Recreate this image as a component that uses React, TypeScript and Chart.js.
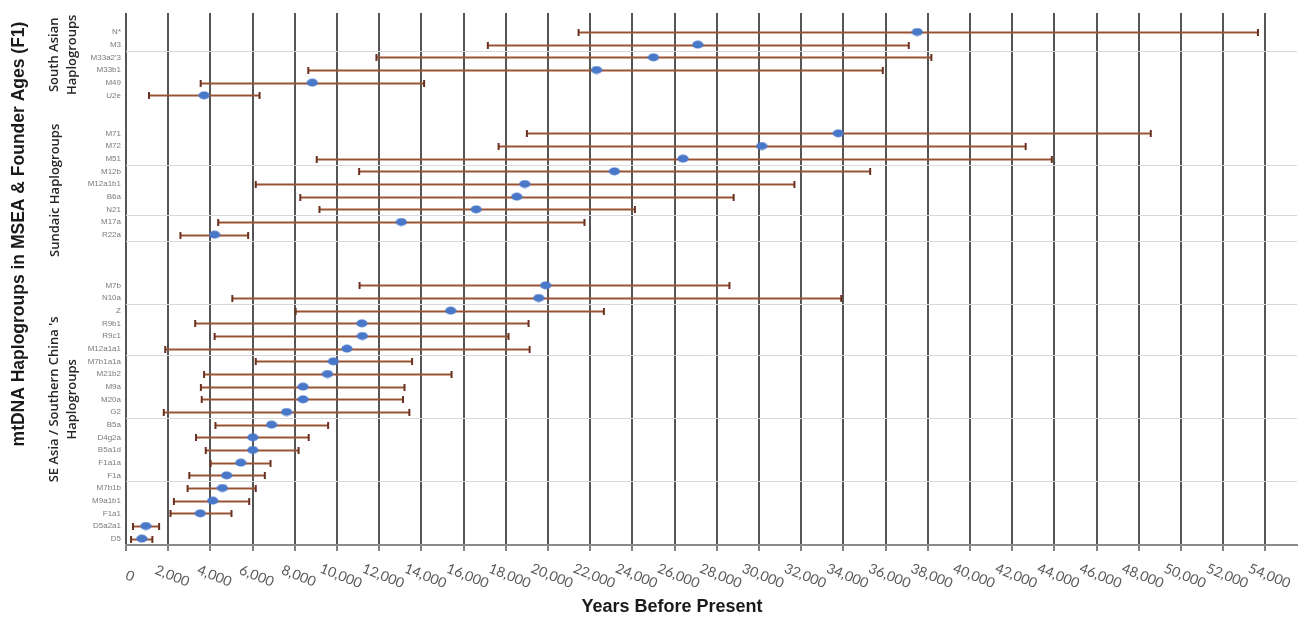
import React, { useEffect, useRef } from 'react';
import { Chart, registerables } from 'chart.js';

Chart.register(...registerables);

// Rows from top to bottom ('' = spacer row)
const haplogroups: string[] = [
  '', 'N*', 'M3', "M33a2'3", 'M33b1', 'M49', 'U2e',
  '', '',
  'M71', 'M72', 'M51', 'M12b', 'M12a1b1', 'B6a', 'N21', 'M17a', 'R22a',
  '', '', '',
  'M7b', 'N10a', 'Z', 'R9b1', 'R9c1', 'M12a1a1', 'M7b1a1a', 'M21b2', 'M9a', 'M20a', 'G2',
  'B5a', 'D4g2a', 'B5a1d', 'F1a1a', 'F1a', 'M7b1b', 'M9a1b1', 'F1a1', 'D5a2a1', 'D5',
];

const founderAge: (number | null)[] = [
  null, 37500, 27100, 25000, 22300, 8830, 3700,
  null, null,
  33760, 30130, 26400, 23150, 18900, 18520, 16600, 13050, 4200,
  null, null, null,
  19890, 19560, 15390, 11180, 11200, 10470, 9830, 9550, 8390, 8390, 7610,
  6900, 6010, 6010, 5440, 4770, 4570, 4110, 3520, 940, 750,
];

const lowerAge: (number | null)[] = [
  null, 21450, 17150, 11870, 8640, 3540, 1090,
  null, null,
  19000, 17660, 9040, 11050, 6150, 8260, 9170, 4370, 2580,
  null, null, null,
  11070, 5040, 8040, 3280, 4200, 1860, 6150, 3700, 3550, 3590, 1790,
  4240, 3320, 3780, 4010, 3000, 2920, 2270, 2110, 330, 240,
];

const upperAge: (number | null)[] = [
  null, 53650, 37100, 38170, 35870, 14130, 6330,
  null, null,
  48570, 42640, 43880, 35270, 31680, 28800, 24120, 21730, 5790,
  null, null, null,
  28600, 33900, 22650, 19080, 18130, 19130, 13560, 15430, 13200, 13130, 13430,
  9580, 8660, 8180, 6850, 6580, 6150, 5840, 5000, 1570, 1250,
];

// x-axis tick values (years before present)
const xTickValues: number[] = [
  0, 2000, 4000, 6000, 8000, 10000, 12000, 14000, 16000, 18000, 20000, 22000, 24000, 26000,
  28000, 30000, 32000, 34000, 36000, 38000, 40000, 42000, 44000, 46000, 48000, 50000, 52000, 54000,
];

// Light horizontal separators (between rows)
const rowSeparators: number[] = [2.5, 11.5, 15.5, 17.5, 22.5, 26.5, 31.5, 36.5];

const groupLines: string[][] = [
  ['South Asian', 'Haplogroups'],
  ['Sundaic Haplogroups'],
  ["SE Asia / Southern China 's", 'Haplogroups'],
];
const groupCenterRow: number[] = [2.8, 13.5, 30.0];

const xAxisTitle = 'Years Before Present';
const chartTitle = 'mtDNA Haplogroups in MSEA & Founder Ages (F1)';

const X_MAX = 55500;

function makeDot(): HTMLCanvasElement {
  const c = document.createElement('canvas');
  c.width = 12;
  c.height = 9;
  const g = c.getContext('2d')!;
  g.fillStyle = '#4a78c9';
  g.beginPath();
  g.ellipse(6, 4.5, 5.6, 3.9, 0, 0, Math.PI * 2);
  g.fill();
  return c;
}

const errorBarPlugin = {
  id: 'errorBars',
  beforeDatasetsDraw(chart: any) {
    const { ctx, scales } = chart;
    const xs = scales.x;
    const ys = scales.y;
    ctx.save();
    for (let i = 0; i < haplogroups.length; i++) {
      const lo = lowerAge[i];
      const hi = upperAge[i];
      if (lo == null || hi == null) continue;
      const py = Math.round(ys.getPixelForValue(i)) + 0.5;
      const x1 = xs.getPixelForValue(lo);
      const x2 = xs.getPixelForValue(hi);
      ctx.strokeStyle = '#9a5434';
      ctx.lineWidth = 2;
      ctx.beginPath();
      ctx.moveTo(x1, py);
      ctx.lineTo(x2, py);
      ctx.stroke();
      ctx.strokeStyle = '#6a3020';
      ctx.lineWidth = 2;
      ctx.beginPath();
      ctx.moveTo(x1, py - 3.5);
      ctx.lineTo(x1, py + 3.5);
      ctx.moveTo(x2, py - 3.5);
      ctx.lineTo(x2, py + 3.5);
      ctx.stroke();
    }
    ctx.restore();
  },
};

const textPlugin = {
  id: 'extraText',
  afterDraw(chart: any) {
    const { ctx, scales } = chart;
    const xs = scales.x;
    const ys = scales.y;
    ctx.save();
    // rotated x tick labels
    ctx.font = '14px Lato';
    ctx.fillStyle = '#595959';
    ctx.textAlign = 'center';
    ctx.textBaseline = 'middle';
    xs.ticks.forEach((t: any) => {
      const px = xs.getPixelForValue(t.value);
      ctx.save();
      ctx.translate(px + 4, 576);
      ctx.rotate((22 * Math.PI) / 180);
      ctx.fillText(Number(t.value).toLocaleString('en-US'), 0, 0);
      ctx.restore();
    });
    // x axis title
    ctx.font = 'bold 18px "Liberation Sans"';
    ctx.fillStyle = '#1a1a1a';
    ctx.fillText(xAxisTitle, 672, 607);
    // main vertical title
    ctx.save();
    ctx.translate(19, 234);
    ctx.rotate(-Math.PI / 2);
    ctx.font = 'bold 17.5px "Liberation Sans"';
    ctx.fillText(chartTitle, 0, 0);
    ctx.restore();
    // group labels
    ctx.font = '600 13px "Open Sans"';
    ctx.fillStyle = '#262626';
    groupLines.forEach((lines, gi) => {
      const cy = ys.getPixelForValue(groupCenterRow[gi]);
      const xPositions = lines.length === 1 ? [55] : [54, 72];
      lines.forEach((line, li) => {
        ctx.save();
        ctx.translate(xPositions[li], cy);
        ctx.rotate(-Math.PI / 2);
        ctx.fillText(line, 0, 0);
        ctx.restore();
      });
    });
    ctx.restore();
  },
};

export default function App() {
  const canvasRef = useRef<HTMLCanvasElement | null>(null);

  useEffect(() => {
    document.body.style.margin = '0';
    document.body.style.overflow = 'hidden';
    const canvas = canvasRef.current;
    if (!canvas) return;
    const dot = makeDot();

    const points = founderAge
      .map((v, i) => (v == null ? null : { x: v, y: i }))
      .filter((p) => p !== null) as { x: number; y: number }[];

    const chart = new Chart(canvas, {
      type: 'scatter',
      data: {
        datasets: [
          {
            label: 'Founder age',
            data: points,
            pointStyle: dot as any,
            pointRadius: 5,
            backgroundColor: '#4a78c9',
            borderColor: '#4a78c9',
          },
        ],
      },
      options: {
        animation: false,
        responsive: false,
        devicePixelRatio: 1,
        layout: { padding: { left: 0, right: 3, top: 13, bottom: 0 } },
        plugins: {
          legend: { display: false },
          tooltip: { enabled: false },
          title: { display: false },
        },
        scales: {
          x: {
            type: 'linear',
            min: 0,
            max: X_MAX,
            z: 0,
            afterBuildTicks: (scale: any) => {
              scale.ticks = xTickValues.map((v) => ({ value: v }));
            },
            ticks: {
              display: false,
            },
            grid: {
              color: '#555555',
              lineWidth: 2,
              drawTicks: true,
              tickLength: 6,
              tickColor: '#555555',
              tickWidth: 1.5,
            },
            border: { display: true, color: '#8a8a8a', width: 2 },
            afterFit: (scale: any) => {
              scale.height = 85;
            },
          },
          y: {
            type: 'linear',
            min: -0.5,
            max: haplogroups.length - 0.5,
            reverse: true,
            z: -1,
            afterBuildTicks: (scale: any) => {
              const vals: number[] = [];
              for (let i = 0; i < haplogroups.length; i++) vals.push(i);
              rowSeparators.forEach((v) => vals.push(v));
              vals.sort((a, b) => a - b);
              scale.ticks = vals.map((v) => ({ value: v }));
            },
            afterFit: (scale: any) => {
              scale.width = 126;
            },
            ticks: {
              autoSkip: false,
              padding: 5,
              color: '#7a7a7a',
              font: { family: '"Liberation Sans"', size: 8 },
              callback: (value: any) =>
                Number.isInteger(value) ? haplogroups[value as number] : '',
            },
            grid: {
              drawTicks: false,
              lineWidth: 1,
              color: (c: any) =>
                c.tick && !Number.isInteger(c.tick.value) ? '#d9d9d9' : 'rgba(0,0,0,0)',
            },
            border: { display: false },
          },
        },
      },
      plugins: [errorBarPlugin, textPlugin],
    });

    return () => {
      chart.destroy();
    };
  }, []);

  return (
    <div style={{ width: 1303, height: 630, background: '#ffffff' }}>
      <canvas ref={canvasRef} width={1303} height={630} style={{ display: 'block' }} />
    </div>
  );
}
